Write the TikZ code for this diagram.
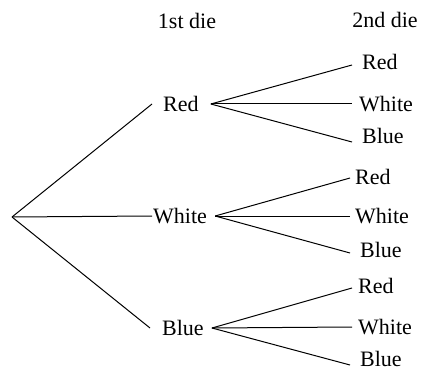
\documentclass[tikz,border=0pt]{standalone}
\usepackage{fontspec}
\setmainfont{Liberation Serif}
\begin{document}
\begin{tikzpicture}[x=1pt, y=-1pt,
  lbl/.style={anchor=west, inner sep=0pt, font=\fontsize{22}{26}\selectfont},
  head/.style={inner sep=0pt, font=\fontsize{22}{26}\selectfont},
  branch/.style={line width=1pt}]
  \useasboundingbox (0,0) rectangle (422,371);

  % column headings
  \node[head] (h1) at (187,21) {1st die};
  \node[head] (h2) at (385,20) {2nd die};

  % root of the tree
  \coordinate (root) at (12,217);

  % outcomes of the first die
  \node[lbl] (a1) at (163,104) {Red};
  \node[lbl] (a2) at (153,216) {White};
  \node[lbl] (a3) at (162,328) {Blue};

  % outcomes of the second die
  \node[lbl] (b11) at (362,62)  {Red};
  \node[lbl] (b12) at (359,104) {White};
  \node[lbl] (b13) at (362,136) {Blue};
  \node[lbl] (b21) at (355,177) {Red};
  \node[lbl] (b22) at (355,216) {White};
  \node[lbl] (b23) at (360,250) {Blue};
  \node[lbl] (b31) at (358,286) {Red};
  \node[lbl] (b32) at (358,327) {White};
  \node[lbl] (b33) at (360,359) {Blue};

  % first-level branches
  \draw[branch] (root) -- ([xshift=-11pt]a1.west);
  \draw[branch] (root) -- ([xshift=-1pt]a2.west);
  \draw[branch] (root) -- ([xshift=-12pt]a3.west);

  % second-level branches after Red
  \draw[branch] ([xshift=12pt]a1.east) -- ([shift={(-10pt,-3pt)}]b11.west);
  \draw[branch] ([xshift=12pt]a1.east) -- ([xshift=-7pt]b12.west);
  \draw[branch] ([xshift=12pt]a1.east) -- ([shift={(-10pt,-6pt)}]b13.west);

  % second-level branches after White
  \draw[branch] ([xshift=8pt]a2.east) -- ([shift={(-5pt,-1pt)}]b21.west);
  \draw[branch] ([xshift=8pt]a2.east) -- ([xshift=-5pt]b22.west);
  \draw[branch] ([xshift=8pt]a2.east) -- ([shift={(-10pt,-3pt)}]b23.west);

  % second-level branches after Blue
  \draw[branch] ([xshift=8pt]a3.east) -- ([shift={(-6pt,-2pt)}]b31.west);
  \draw[branch] ([xshift=8pt]a3.east) -- ([xshift=-6pt]b32.west);
  \draw[branch] ([xshift=8pt]a3.east) -- ([shift={(-10pt,-6pt)}]b33.west);
\end{tikzpicture}
\end{document}
